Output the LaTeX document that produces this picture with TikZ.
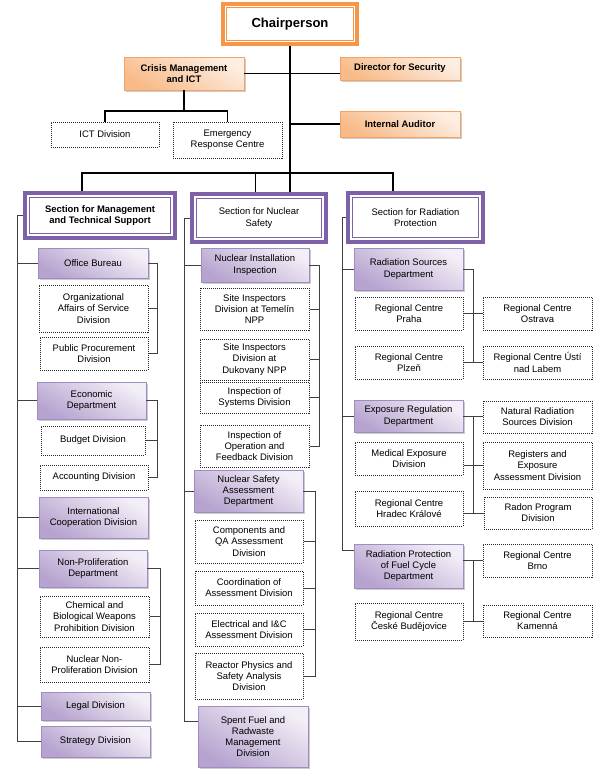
\documentclass[tikz,border=0pt]{standalone}
\usepackage{fontspec}
\setmainfont{Liberation Sans}
\usetikzlibrary{shadows}
\definecolor{secpurple}{HTML}{7E62A8}
\definecolor{depttop}{HTML}{F3EFF7}
\definecolor{deptbot}{HTML}{B6A3CF}
\definecolor{deptedge}{HTML}{A08CC0}
\definecolor{chairorange}{HTML}{F79646}
\definecolor{ortop}{HTML}{FDEEE2}
\definecolor{orbot}{HTML}{F8BA88}
\definecolor{oredge}{HTML}{F2A365}
\newcommand\orgnode[7]{\node[#1, minimum width={(#5-#3)*0.75pt}, minimum height={(#6-#4)*0.75pt}] (#2) at ({(#3+#5)/2},{(#4+#6)/2}) {#7};}
\tikzset{
  box/.style={inner sep=0pt, align=center, font=\fontsize{7.1}{8.4}\selectfont},
  chairbox/.style={box, draw=chairorange, line width=2.4pt, fill=white, font=\fontsize{9.8}{11}\selectfont\bfseries,
    path picture={\draw[chairorange, line width=0.7pt] ([shift={(2.8pt,-2.8pt)}]path picture bounding box.north west) rectangle ([shift={(-2.8pt,2.8pt)}]path picture bounding box.south east);}},
  orbox/.style={box, font=\fontsize{7.1}{8.4}\selectfont\bfseries, top color=ortop, bottom color=orbot, shading angle=-30, draw=oredge, line width=0.4pt,
    drop shadow={shadow xshift=1.5pt, shadow yshift=-1.5pt, fill=black!40, opacity=0.5}},
  deptbox/.style={box, top color=depttop, bottom color=deptbot, shading angle=-30, draw=deptedge, line width=0.4pt,
    drop shadow={shadow xshift=1.5pt, shadow yshift=-1.5pt, fill=black!40, opacity=0.5}},
  divbox/.style={box, draw=black!85, line width=0.75pt, dash pattern=on 0.75pt off 0.75pt, fill=white},
  secbox/.style={box, draw=secpurple, line width=3pt, fill=white,
    path picture={\draw[secpurple, line width=0.6pt] ([shift={(3.1pt,-3.1pt)}]path picture bounding box.north west) rectangle ([shift={(-3.1pt,3.1pt)}]path picture bounding box.south east);}},
  secboldbox/.style={secbox, font=\fontsize{7.1}{8.4}\selectfont\bfseries},
  mainline/.style={line width=0.8pt, black},
  colline/.style={line width=0.6pt, black!75}
}
\begin{document}
\begin{tikzpicture}[x=0.75pt, y=-0.75pt]
  \useasboundingbox (0,0) rectangle (605,771);

  \orgnode{chairbox}{chair}{223}{4}{357}{44}{Chairperson}
  \orgnode{orbox}{crisis}{124}{57}{244}{90}{Crisis Management\\and ICT}
  \orgnode{orbox}{director}{340}{57}{460}{80}{Director for Security}
  \orgnode{orbox}{auditor}{340}{111}{460}{137}{Internal Auditor}
  \orgnode{divbox}{ictDiv}{51}{122}{159}{147}{ICT Division}
  \orgnode{divbox}{erc}{173}{122}{282}{158}{Emergency\\Response Centre}

  \orgnode{secboldbox}{sMgmt}{25}{193}{175}{238}{Section for Management\\and Technical Support}
  \orgnode{secbox}{sNuc}{192}{194}{326}{242}{Section for Nuclear\\Safety}
  \orgnode{secbox}{sRad}{348}{193}{483}{242}{Section for Radiation\\Protection}

  \orgnode{deptbox}{office}{38}{248}{148}{278}{Office Bureau}
  \orgnode{divbox}{orgAff}{39}{285}{148}{332}{Organizational\\Affairs of Service\\Division}
  \orgnode{divbox}{pubProc}{40}{337}{148}{370}{Public Procurement\\Division}
  \orgnode{deptbox}{econ}{37}{382}{146}{419}{Economic\\Department}
  \orgnode{divbox}{budget}{41}{426}{145}{455}{Budget Division}
  \orgnode{divbox}{account}{40}{465}{148}{490}{Accounting Division}
  \orgnode{deptbox}{intCoop}{39}{497}{148}{538}{International\\Cooperation Division}
  \orgnode{deptbox}{nonProl}{39}{550}{147}{587}{Non-Proliferation\\Department}
  \orgnode{divbox}{chemBio}{40}{596}{149}{637}{Chemical and\\Biological Weapons\\Prohibition Division}
  \orgnode{divbox}{nucNonProl}{40}{647}{149}{682}{Nuclear Non-\\Proliferation Division}
  \orgnode{deptbox}{legal}{41}{692}{150}{720}{Legal Division}
  \orgnode{deptbox}{strategy}{41}{726}{150}{757}{Strategy Division}

  \orgnode{deptbox}{nii}{201}{248}{309}{282}{Nuclear Installation\\Inspection}
  \orgnode{divbox}{temelin}{200}{288}{309}{330}{Site Inspectors\\Division at Temelín\\NPP}
  \orgnode{divbox}{dukovany}{200}{339}{309}{380}{Site Inspectors\\Division at\\Dukovany NPP}
  \orgnode{divbox}{systems}{200}{382}{309}{413}{Inspection of\\Systems Division}
  \orgnode{divbox}{operation}{200}{425}{309}{467}{Inspection of\\Operation and\\Feedback Division}
  \orgnode{deptbox}{nsad}{194}{470}{303}{512}{Nuclear Safety\\Assessment\\Department}
  \orgnode{divbox}{compQA}{195}{520}{303}{563}{Components and\\QA Assessment\\Division}
  \orgnode{divbox}{coord}{195}{571}{303}{605}{Coordination of\\Assessment Division}
  \orgnode{divbox}{elec}{195}{613}{303}{646}{Electrical and I\&C\\Assessment Division}
  \orgnode{divbox}{reactor}{195}{653}{303}{699}{Reactor Physics and\\Safety Analysis\\Division}
  \orgnode{deptbox}{spent}{198}{706}{308}{767}{Spent Fuel and\\Radwaste\\Management\\Division}

  \orgnode{deptbox}{radSrc}{354}{248}{463}{290}{Radiation Sources\\Department}
  \orgnode{divbox}{praha}{355}{297}{463}{330}{Regional Centre\\Praha}
  \orgnode{divbox}{ostrava}{483}{297}{592}{330}{Regional Centre\\Ostrava}
  \orgnode{divbox}{plzen}{355}{346}{463}{379}{Regional Centre\\Plzeň}
  \orgnode{divbox}{usti}{483}{346}{592}{379}{Regional Centre Ústí\\nad Labem}
  \orgnode{deptbox}{expReg}{354}{400}{463}{432}{Exposure Regulation\\Department}
  \orgnode{divbox}{natural}{483}{401}{592}{433}{Natural Radiation\\Sources Division}
  \orgnode{divbox}{medical}{355}{442}{463}{475}{Medical Exposure\\Division}
  \orgnode{divbox}{registers}{483}{442}{592}{489}{Registers and\\Exposure\\Assessment Division}
  \orgnode{divbox}{hradec}{355}{491}{463}{526}{Regional Centre\\Hradec Králové}
  \orgnode{divbox}{radon}{484}{497}{592}{529}{Radon Program\\Division}
  \orgnode{deptbox}{fuel}{354}{544}{463}{588}{Radiation Protection\\of Fuel Cycle\\Department}
  \orgnode{divbox}{brno}{483}{544}{592}{577}{Regional Centre\\Brno}
  \orgnode{divbox}{budejovice}{355}{603}{463}{640}{Regional Centre\\České Budějovice}
  \orgnode{divbox}{kamenna}{483}{605}{592}{637}{Regional Centre\\Kamenná}

  \coordinate (busTop) at (291,173);
  \coordinate (ictBus) at (184,111);
  \coordinate (dropMgmt) at ([xshift=-13.5pt]sMgmt.north);
  \coordinate (dropNuc) at ([xshift=-2.3pt]sNuc.north);
  \coordinate (dropRad) at ([xshift=-16.9pt]sRad.north);
  \draw[mainline] (chair.south) -- (chair.south |- sNuc.north);
  \draw[mainline] (crisis.east) -- (crisis.east -| director.west);
  \draw[mainline] (chair.south |- auditor.west) -- (auditor.west);
  \draw[mainline] (crisis.south) -- (ictBus);
  \draw[mainline] (ictDiv.north) |- (ictBus) -| (erc.north);
  \draw[mainline] (dropMgmt) |- (busTop) -| (dropRad);
  \draw[mainline] (dropNuc) -- (dropNuc |- busTop);

  \coordinate (busL) at (17,0);
  \coordinate (brOff) at (157,0);
  \coordinate (brNon) at (160,0);
  \draw[colline] (sMgmt.west) -- (sMgmt.west -| busL) |- (strategy.west);
  \foreach \n in {office,econ,intCoop,nonProl,legal}
    \draw[colline] (busL |- \n.west) -- (\n.west);
  \draw[colline] (office.east) -| (brOff |- pubProc.east) -- (pubProc.east);
  \draw[colline] (orgAff.east) -- (orgAff.east -| brOff);
  \draw[colline] (econ.east) -| (brOff |- account.east) -- (account.east);
  \draw[colline] (budget.east) -- (budget.east -| brOff);
  \draw[colline] (nonProl.east) -| (brNon |- nucNonProl.east) -- (nucNonProl.east);
  \draw[colline] (chemBio.east) -- (chemBio.east -| brNon);

  \coordinate (busM) at (184,0);
  \coordinate (brNii) at (319,0);
  \coordinate (brNsad) at (315,0);
  \coordinate (spentIn) at ([yshift=11pt]spent.west);
  \draw[colline] (sNuc.west) -- (sNuc.west -| busM) |- (spentIn);
  \foreach \n in {nii,nsad}
    \draw[colline] (busM |- \n.west) -- (\n.west);
  \draw[colline] (nii.east) -| (brNii |- operation.east) -- (operation.east);
  \foreach \n in {temelin,dukovany,systems}
    \draw[colline] (\n.east) -- (\n.east -| brNii);
  \draw[colline] (nsad.east) -| (brNsad |- reactor.east) -- (reactor.east);
  \foreach \n in {compQA,coord,elec}
    \draw[colline] (\n.east) -- (\n.east -| brNsad);

  \coordinate (busR) at (342,0);
  \coordinate (brR) at (473,0);
  \coordinate (fuelIn) at ([yshift=12pt]fuel.west);
  \draw[colline] (sRad.west) -- (sRad.west -| busR) |- (fuelIn);
  \foreach \n in {radSrc,expReg}
    \draw[colline] (busR |- \n.west) -- (\n.west);
  \draw[colline] (radSrc.east) -| (brR |- plzen.east);
  \draw[colline] (praha.east) -- (ostrava.west);
  \draw[colline] (plzen.east) -- (usti.west);
  \draw[colline] (expReg.east) -- (expReg.east -| natural.west);
  \draw[colline] (brR |- expReg.east) -- (brR |- radon.west);
  \draw[colline] (registers.west) -- (registers.west -| medical.east);
  \draw[colline] (radon.west) -- (radon.west -| hradec.east);
  \draw[colline] (brno.west) -- (brno.west -| fuel.east);
  \draw[colline] (kamenna.west) -- (kamenna.west -| budejovice.east);
  \draw[colline] (brR |- brno.west) -- (brR |- kamenna.west);
\end{tikzpicture}
\end{document}
